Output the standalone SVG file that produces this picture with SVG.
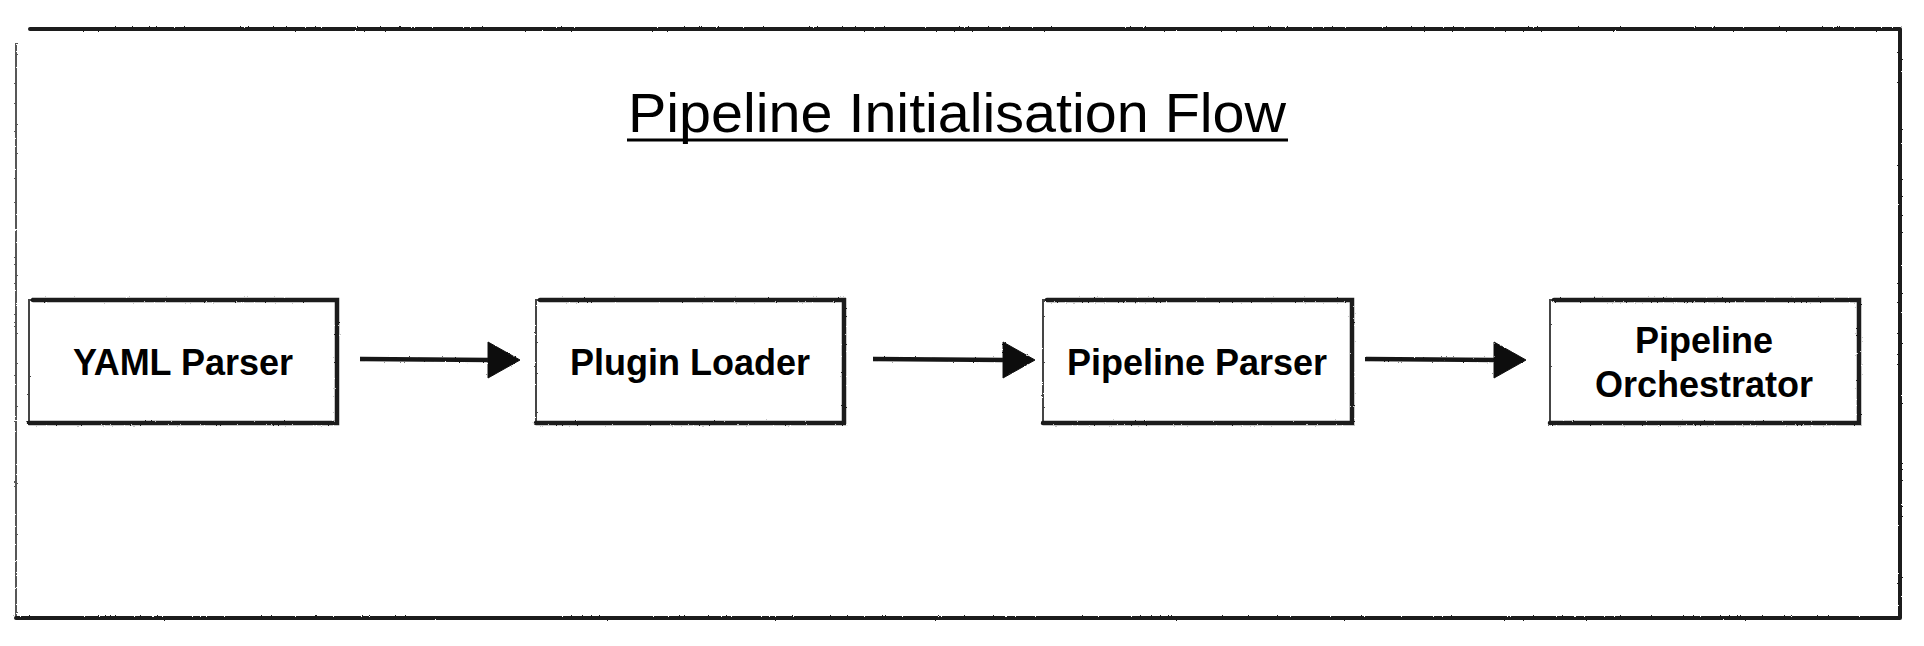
<svg xmlns="http://www.w3.org/2000/svg" width="1924" height="646" viewBox="0 0 1924 646">
<defs>
<filter id="rough" filterUnits="userSpaceOnUse" x="0" y="0" width="1924" height="646">
<feTurbulence type="fractalNoise" baseFrequency="0.9" numOctaves="2" seed="3" result="n"/>
<feDisplacementMap in="SourceGraphic" in2="n" scale="2" xChannelSelector="R" yChannelSelector="G"/>
</filter>
<path id="arrowhead" d="M-32,-18 L0,0 L-32,18 Z"/>
</defs>
<style>
.bg{fill:#ffffff}
.boxfill{fill:#ffffff;stroke:#444;stroke-width:2}
.heavy{fill:none;stroke:#1a1a1a;stroke-width:4.5;stroke-linecap:round}
.thin{fill:none;stroke:#444;stroke-width:1.8}
.lbl{font-family:"Liberation Sans",Arial,Helvetica,sans-serif;font-weight:bold;font-size:36px;fill:#000;text-anchor:middle}
.title{font-family:"Liberation Sans",Arial,sans-serif;font-size:56px;fill:#000}
.conn{fill:none;stroke:#151515;stroke-width:4.5}
.ah{fill:#111;stroke:#111;stroke-width:1}
</style>
<rect class="bg" x="0" y="0" width="1924" height="646"/>
<g id="frame" filter="url(#rough)">
<path class="thin" d="M16,43 L16,618"/>
<path class="heavy" d="M30,29 L1900,29 M1900,29 L1900,618 M16,618 L1900,618" style="stroke-width:4"/>
</g>
<g id="title">
<text class="title" x="628" y="132" textLength="658" lengthAdjust="spacingAndGlyphs">Pipeline Initialisation Flow</text>
<line x1="627" y1="140" x2="1288" y2="140" stroke="#000" stroke-width="3"/>
</g>
<g id="node-yaml-parser">
<g filter="url(#rough)">
<rect class="boxfill" x="29" y="300" width="308" height="123"/>
<path class="heavy" d="M33,300 L337,300 L337,423 L29,423"/>
</g>
<text class="lbl" x="183" y="375">YAML Parser</text>
</g>
<g id="node-plugin-loader">
<g filter="url(#rough)">
<rect class="boxfill" x="536" y="300" width="308" height="123"/>
<path class="heavy" d="M540,300 L844,300 L844,423 L536,423"/>
</g>
<text class="lbl" x="690" y="375">Plugin Loader</text>
</g>
<g id="node-pipeline-parser">
<g filter="url(#rough)">
<rect class="boxfill" x="1043" y="300" width="309" height="123"/>
<path class="heavy" d="M1047,300 L1352,300 L1352,423 L1043,423"/>
</g>
<text class="lbl" x="1197" y="375">Pipeline Parser</text>
</g>
<g id="node-pipeline-orchestrator">
<g filter="url(#rough)">
<rect class="boxfill" x="1550" y="300" width="309" height="123"/>
<path class="heavy" d="M1554,300 L1859,300 L1859,423 L1550,423"/>
</g>
<text class="lbl" x="1704" y="353">Pipeline</text>
<text class="lbl" x="1704" y="397">Orchestrator</text>
</g>
<g id="connectors" filter="url(#rough)">
<line class="conn" x1="360" y1="359" x2="492" y2="360"/>
<use href="#arrowhead" class="ah" transform="translate(520,360)"/>
<line class="conn" x1="873" y1="359" x2="1007" y2="360"/>
<use href="#arrowhead" class="ah" transform="translate(1035,360)"/>
<line class="conn" x1="1365" y1="359" x2="1498" y2="360"/>
<use href="#arrowhead" class="ah" transform="translate(1526,360)"/>
</g>
</svg>
